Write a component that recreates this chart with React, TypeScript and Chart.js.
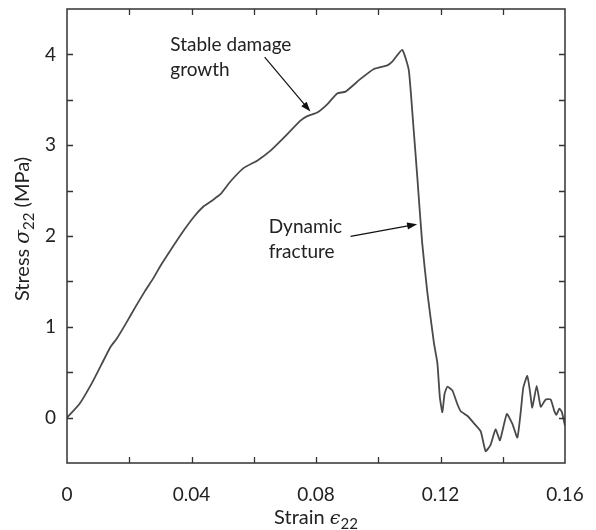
import React, { useEffect, useRef } from "react";
import { Chart, registerables } from "chart.js";

Chart.register(...registerables);

// ---- data (strain ε22, stress σ22 in MPa) ----
const strain = [
  0, 0.004, 0.008, 0.011, 0.014, 0.016, 0.019, 0.022, 0.025, 0.028, 0.03, 0.033,
  0.0375, 0.041, 0.044, 0.047, 0.0493, 0.0525, 0.0568, 0.0611, 0.0654, 0.0696,
  0.075, 0.0772, 0.0804, 0.0836, 0.0868, 0.0895, 0.0943, 0.0986, 0.1029, 0.1045,
  0.1077, 0.1098, 0.1112, 0.1125, 0.1141, 0.1158, 0.1179, 0.119, 0.1198, 0.1206,
  0.1213, 0.1222, 0.1238, 0.1254, 0.1265, 0.1286, 0.1307, 0.1329, 0.1345, 0.1361,
  0.1377, 0.1391, 0.1413, 0.1431, 0.1447, 0.1458, 0.1466, 0.1479, 0.1487, 0.1495,
  0.1509, 0.1522, 0.1538, 0.1554, 0.1565, 0.1572, 0.1582, 0.159, 0.16,
];
const stress = [
  0, 0.15, 0.38, 0.58, 0.78, 0.87, 1.04, 1.22, 1.39, 1.55, 1.67, 1.83,
  2.06, 2.22, 2.33, 2.4, 2.46, 2.6, 2.75, 2.83, 2.94, 3.08,
  3.27, 3.32, 3.36, 3.45, 3.57, 3.59, 3.73, 3.84, 3.88, 3.92,
  4.05, 3.83, 3.25, 2.67, 1.93, 1.37, 0.82, 0.6, 0.22, 0.06,
  0.26, 0.34, 0.3, 0.15, 0.07, 0.02, -0.06, -0.15, -0.37, -0.3,
  -0.13, -0.25, 0.04, -0.07, -0.22, 0.07, 0.33, 0.46, 0.3, 0.11,
  0.35, 0.12, 0.2, 0.2, 0.08, 0.03, 0.1, 0.06, -0.09,
];

const xMajorTicks = [0, 0.04, 0.08, 0.12, 0.16];
const xTickLabels = ["0", "0.04", "0.08", "0.12", "0.16"];
const yMajorTicks = [0, 1, 2, 3, 4];
const yTickLabels = ["0", "1", "2", "3", "4"];
const xMinorTicks = [0.02, 0.04, 0.06, 0.08, 0.1, 0.12, 0.14];
const yMinorTicks = [0, 0.5, 1, 1.5, 2, 2.5, 3, 3.5, 4];

const annotationTexts = [["Stable damage", "growth"], ["Dynamic", "fracture"]];
// anchors in data coordinates
const annotationTextX = [0.0332, 0.0648];
const annotationTextY = [[4.1, 3.83], [2.1, 1.82]];
const arrowFrom = [[0.0635, 3.97], [0.0911, 1.995]];
const arrowTo = [[0.0782, 3.37], [0.1125, 2.13]];

const FONT = "Lato, 'Open Sans', sans-serif";
const GREEK = "'DejaVu Serif', serif";

type Part = { text: string; font: string; dy?: number };

function drawRich(ctx: CanvasRenderingContext2D, parts: Part[], x: number, y: number) {
  let total = 0;
  for (const p of parts) {
    ctx.font = p.font;
    total += ctx.measureText(p.text).width;
  }
  let cx = x - total / 2;
  for (const p of parts) {
    ctx.font = p.font;
    ctx.fillText(p.text, cx, y + (p.dy || 0));
    cx += ctx.measureText(p.text).width;
  }
}

const framePlugin = {
  id: "frameAndAnnotations",
  afterDraw(chart: any) {
    const { ctx, chartArea: a, scales } = chart;
    const xs = scales.x;
    const ys = scales.y;
    ctx.save();
    // frame
    ctx.strokeStyle = "#333";
    ctx.lineWidth = 1.5;
    ctx.strokeRect(a.left, a.top, a.right - a.left, a.bottom - a.top);
    // inward ticks
    ctx.lineWidth = 1.3;
    ctx.beginPath();
    const L = 6;
    for (const v of xMinorTicks) {
      const px = Math.round(xs.getPixelForValue(v)) + 0.5;
      ctx.moveTo(px, a.bottom);
      ctx.lineTo(px, a.bottom - L);
      ctx.moveTo(px, a.top);
      ctx.lineTo(px, a.top + L);
    }
    for (const v of yMinorTicks) {
      const py = Math.round(ys.getPixelForValue(v)) + 0.5;
      ctx.moveTo(a.left, py);
      ctx.lineTo(a.left + L, py);
      ctx.moveTo(a.right, py);
      ctx.lineTo(a.right - L, py);
    }
    ctx.stroke();

    // annotations
    ctx.fillStyle = "#222";
    ctx.strokeStyle = "#111";
    ctx.font = "19px " + FONT;
    ctx.textAlign = "left";
    ctx.textBaseline = "middle";
    annotationTexts.forEach((lines, i) => {
      lines.forEach((t, j) => {
        ctx.fillText(t, xs.getPixelForValue(annotationTextX[i]), ys.getPixelForValue(annotationTextY[i][j]));
      });
      const x1 = xs.getPixelForValue(arrowFrom[i][0]);
      const y1 = ys.getPixelForValue(arrowFrom[i][1]);
      const x2 = xs.getPixelForValue(arrowTo[i][0]);
      const y2 = ys.getPixelForValue(arrowTo[i][1]);
      const ang = Math.atan2(y2 - y1, x2 - x1);
      const head = 10;
      const hw = 3.5;
      ctx.lineWidth = 1.2;
      ctx.beginPath();
      ctx.moveTo(x1, y1);
      ctx.lineTo(x2 - head * 0.8 * Math.cos(ang), y2 - head * 0.8 * Math.sin(ang));
      ctx.stroke();
      ctx.beginPath();
      ctx.moveTo(x2, y2);
      ctx.lineTo(x2 - head * Math.cos(ang) + hw * Math.sin(ang), y2 - head * Math.sin(ang) - hw * Math.cos(ang));
      ctx.lineTo(x2 - head * Math.cos(ang) - hw * Math.sin(ang), y2 - head * Math.sin(ang) + hw * Math.cos(ang));
      ctx.closePath();
      ctx.fillStyle = "#111";
      ctx.fill();
      ctx.fillStyle = "#222";
    });

    // axis titles
    ctx.textBaseline = "alphabetic";
    ctx.fillStyle = "#222";
    const cxp = (a.left + a.right) / 2;
    drawRich(
      ctx,
      [
        { text: "Strain ", font: "20px " + FONT },
        { text: "\u03f5", font: "italic 19px " + GREEK },
        { text: "22", font: "15px " + FONT, dy: 5 },
      ],
      cxp,
      524
    );
    ctx.translate(29, 229);
    ctx.rotate(-Math.PI / 2);
    drawRich(
      ctx,
      [
        { text: "Stress ", font: "20px " + FONT },
        { text: "\u03c3", font: "italic 20px " + GREEK },
        { text: "22", font: "15px " + FONT, dy: 5 },
        { text: " (MPa)", font: "20px " + FONT },
      ],
      0,
      0
    );
    ctx.restore();
  },
};

export default function App() {
  const ref = useRef<HTMLCanvasElement | null>(null);
  useEffect(() => {
    document.body.style.margin = "0";
    const canvas = ref.current;
    if (!canvas) return;
    const points = strain.map((x, i) => ({ x, y: stress[i] }));
    const chart = new Chart(canvas, {
      type: "scatter",
      data: {
        datasets: [
          {
            data: points,
            showLine: true,
            borderColor: "#4a4a4a",
            borderWidth: 1.8,
            pointRadius: 0,
            tension: 0.15,
            fill: false,
          },
        ],
      },
      options: {
        animation: false,
        responsive: false,
        devicePixelRatio: 1,
        layout: { padding: { left: 0, top: 9, right: 31, bottom: 0 } },
        plugins: { legend: { display: false }, tooltip: { enabled: false }, title: { display: false } },
        scales: {
          x: {
            type: "linear",
            min: 0,
            max: 0.16,
            grid: { display: false },
            border: { display: false },
            afterBuildTicks: (s: any) => {
              s.ticks = xMajorTicks.map((v) => ({ value: v }));
            },
            afterFit: (s: any) => {
              s.height = 67;
            },
            ticks: {
              autoSkip: false,
              maxRotation: 0,
              padding: 12,
              color: "#222",
              font: { family: FONT, size: 19 },
              callback: (_v: any, i: number) => xTickLabels[i],
            },
          },
          y: {
            type: "linear",
            min: -0.5,
            max: 4.5,
            grid: { display: false },
            border: { display: false },
            afterBuildTicks: (s: any) => {
              s.ticks = yMajorTicks.map((v) => ({ value: v }));
            },
            afterFit: (s: any) => {
              s.width = 67;
              s.paddingTop = 0;
              s.paddingBottom = 0;
            },
            ticks: {
              autoSkip: false,
              padding: 3,
              color: "#222",
              font: { family: FONT, size: 19, lineHeight: 0.8 },
              callback: (_v: any, i: number) => yTickLabels[i],
            },
          },
        },
      },
      plugins: [framePlugin],
    } as any);
    return () => chart.destroy();
  }, []);
  return (
    <div style={{ width: 596, height: 530 }}>
      <canvas ref={ref} width={596} height={530} style={{ display: "block" }} />
    </div>
  );
}
